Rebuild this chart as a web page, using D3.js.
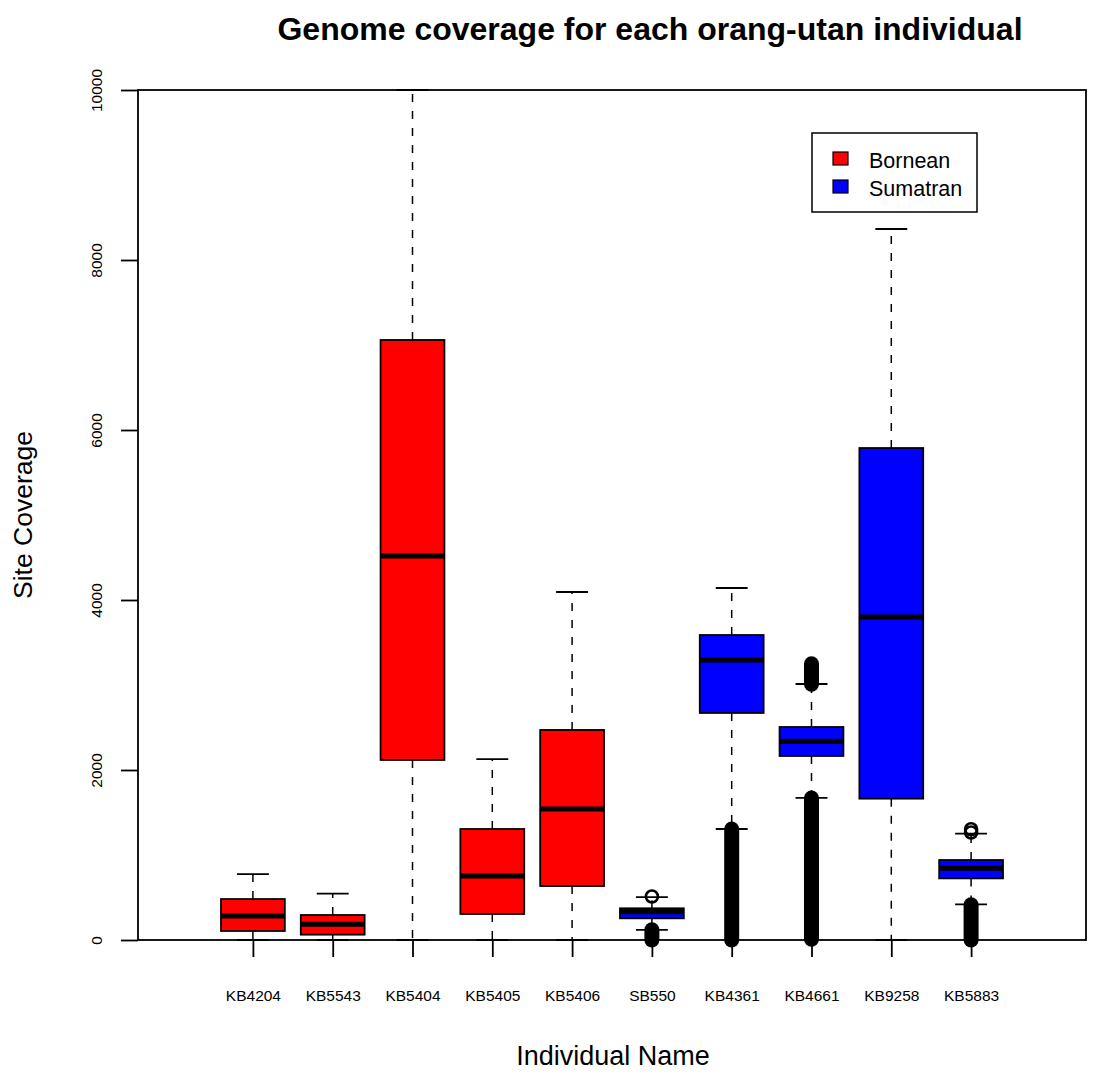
<!DOCTYPE html>
<html lang="en">
<head>
  <meta charset="UTF-8">
  <title>Genome coverage for each orang-utan individual</title>
  <script src="https://d3js.org/d3.v7.min.js"></script>
  <style>
    * { margin: 0; padding: 0; }
    body { background: #fff; }
    svg text { font-family: 'Liberation Sans', Arial, sans-serif; fill: #000; }
  </style>
</head>
<body>
  <svg id="chart" width="1094" height="1078"></svg>
  <script>
    // data
    var categories = ["KB4204", "KB5543", "KB5404", "KB5405", "KB5406", "SB550", "KB4361", "KB4661", "KB9258", "KB5883"];
    var species    = ["Bornean", "Bornean", "Bornean", "Bornean", "Bornean", "Sumatran", "Sumatran", "Sumatran", "Sumatran", "Sumatran"];
    var whiskerLow  = [0, 0, 0, 0, 0, 118, 1306, 1672, 0, 420];
    var q1          = [106, 63, 2118, 306, 635, 255, 2671, 2165, 1663, 725];
    var median      = [282, 184, 4518, 753, 1541, 333, 3294, 2337, 3800, 843];
    var q3          = [482, 294, 7059, 1306, 2471, 373, 3588, 2506, 5788, 941];
    var whiskerHigh = [776, 545, 10000, 2129, 4094, 505, 4141, 3012, 8365, 1251];
    // dense stacks of outliers [low, high] and lone outliers
    var outlierRuns = [[], [], [], [], [], [[0, 120]], [[0, 1306]], [[10, 1670], [3010, 3250]], [], [[0, 415]]];
    var outlierPoints = [[], [], [], [], [], [512], [], [], [], [1265, 1303]];
    var yTicks = [0, 2000, 4000, 6000, 8000, 10000];
    var legendNames = ["Bornean", "Sumatran"];
    var legendColors = ["#ff0000", "#0000ff"];

    var svg = d3.select("#chart");
    var pl = 138, pr = 1086, pt = 90, pb = 940;

    var x = d3.scaleLinear().domain([-0.44, 11.44]).range([pl, pr]);
    var y = d3.scaleLinear().domain([0, 10000]).range([pb, pt]);
    var color = d3.scaleOrdinal().domain(legendNames).range(legendColors);

    var boxes = categories.map(function(c, i) {
      return { name: c, pos: i + 1, sp: species[i], lo: whiskerLow[i], q1: q1[i], med: median[i],
               q3: q3[i], hi: whiskerHigh[i], runs: outlierRuns[i], pts: outlierPoints[i] };
    });

    var half = 0.4; // half box width in x units

    var g = svg.append("g");
    var bx = g.selectAll("g.box").data(boxes).enter().append("g").attr("class", "box");

    // whiskers
    bx.append("line")
      .attr("x1", function(d) { return x(d.pos); }).attr("x2", function(d) { return x(d.pos); })
      .attr("y1", function(d) { return y(d.q3); }).attr("y2", function(d) { return y(d.hi); })
      .attr("stroke", "#000").attr("stroke-width", 1.5).attr("stroke-dasharray", "8,9");
    bx.append("line")
      .attr("x1", function(d) { return x(d.pos); }).attr("x2", function(d) { return x(d.pos); })
      .attr("y1", function(d) { return y(d.q1); }).attr("y2", function(d) { return y(d.lo); })
      .attr("stroke", "#000").attr("stroke-width", 1.5).attr("stroke-dasharray", "8,9");
    // staples
    ["hi", "lo"].forEach(function(k) {
      bx.append("line")
        .attr("x1", function(d) { return x(d.pos - half / 2); }).attr("x2", function(d) { return x(d.pos + half / 2); })
        .attr("y1", function(d) { return y(d[k]); }).attr("y2", function(d) { return y(d[k]); })
        .attr("stroke", "#000").attr("stroke-width", 1.8);
    });
    // boxes
    bx.append("rect")
      .attr("x", function(d) { return x(d.pos - half); })
      .attr("width", function(d) { return x(d.pos + half) - x(d.pos - half); })
      .attr("y", function(d) { return y(d.q3); })
      .attr("height", function(d) { return y(d.q1) - y(d.q3); })
      .attr("fill", function(d) { return color(d.sp); })
      .attr("stroke", "#000").attr("stroke-width", 1.8);
    // medians
    bx.append("line")
      .attr("x1", function(d) { return x(d.pos - half); }).attr("x2", function(d) { return x(d.pos + half); })
      .attr("y1", function(d) { return y(d.med); }).attr("y2", function(d) { return y(d.med); })
      .attr("stroke", "#000").attr("stroke-width", 5);
    // outliers: overlapping open circles form solid stacks
    bx.selectAll("line.run").data(function(d) { return d.runs.map(function(r) { return { pos: d.pos, r: r }; }); })
      .enter().append("line").attr("class", "run")
      .attr("x1", function(d) { return x(d.pos); }).attr("x2", function(d) { return x(d.pos); })
      .attr("y1", function(d) { return y(d.r[0]); }).attr("y2", function(d) { return y(d.r[1]); })
      .attr("stroke", "#000").attr("stroke-width", 15).attr("stroke-linecap", "round");
    bx.selectAll("circle.pt").data(function(d) { return d.pts.map(function(v) { return { pos: d.pos, v: v }; }); })
      .enter().append("circle").attr("class", "pt")
      .attr("cx", function(d) { return x(d.pos); })
      .attr("cy", function(d) { return y(d.v); })
      .attr("r", 6).attr("fill", "none").attr("stroke", "#000").attr("stroke-width", 2.6);

    // axes
    var xAxis = svg.append("g").attr("transform", "translate(0," + pb + ")")
      .call(d3.axisBottom(x).tickValues(d3.range(1, categories.length + 1))
        .tickFormat(function(i) { return categories[i - 1]; }).tickSize(17));
    xAxis.select(".domain").remove();
    xAxis.selectAll(".tick line").attr("stroke-width", 1.8);
    xAxis.selectAll(".tick text").attr("y", 61).attr("dy", 0)
      .style("font-size", "15.5px").style("font-family", "'Liberation Sans', Arial, sans-serif");

    var yAxis = svg.append("g").attr("transform", "translate(" + pl + ",0)")
      .call(d3.axisLeft(y).tickValues(yTicks).tickFormat(d3.format("d")).tickSize(17));
    yAxis.select(".domain").remove();
    yAxis.selectAll(".tick line").attr("stroke-width", 1.8);
    yAxis.selectAll(".tick text").attr("x", 0).attr("dy", 0).attr("y", 0)
      .attr("transform", "translate(-36.5,0) rotate(-90)").attr("text-anchor", "middle")
      .style("font-size", "15.5px").style("font-family", "'Liberation Sans', Arial, sans-serif");

    // frame
    svg.append("rect").attr("x", pl).attr("y", pt)
      .attr("width", pr - pl).attr("height", pb - pt)
      .attr("fill", "none").attr("stroke", "#000").attr("stroke-width", 1.8);

    // titles
    svg.append("text").attr("x", 650).attr("y", 40).attr("text-anchor", "middle")
      .style("font-size", "32px").style("font-weight", "bold")
      .text("Genome coverage for each orang-utan individual");
    svg.append("text").attr("x", 613).attr("y", 1065).attr("text-anchor", "middle")
      .style("font-size", "27px").text("Individual Name");
    svg.append("text").attr("transform", "translate(32," + (pt + pb) / 2 + ") rotate(-90)")
      .attr("text-anchor", "middle").style("font-size", "26.5px").text("Site Coverage");

    // legend
    var lg = svg.append("g").attr("transform", "translate(812,133)");
    lg.append("rect").attr("width", 165).attr("height", 79)
      .attr("fill", "#fff").attr("stroke", "#000").attr("stroke-width", 1.5);
    var items = lg.selectAll("g.item").data(legendNames).enter().append("g")
      .attr("transform", function(d, i) { return "translate(0," + (25.5 + i * 28) + ")"; });
    items.append("rect").attr("x", 21).attr("y", -6.5).attr("width", 15).attr("height", 13)
      .attr("fill", function(d) { return color(d); }).attr("stroke", "#000").attr("stroke-width", 1.2);
    items.append("text").attr("x", 57).attr("y", 9.5).style("font-size", "21.5px").text(function(d) { return d; });
  </script>
</body>
</html>
